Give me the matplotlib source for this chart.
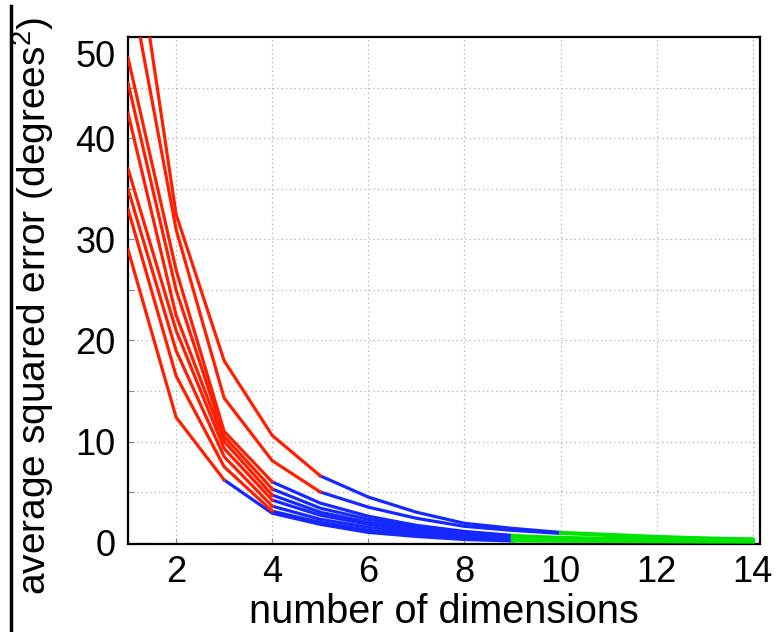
import matplotlib
matplotlib.use("Agg")
import matplotlib.pyplot as plt
import matplotlib.transforms as mtransforms
from matplotlib.lines import Line2D
import numpy as np

# number of dimensions
dims = np.arange(1, 15)

# average squared error per run (degrees^2)
run1 = [64.5, 32.5, 18.0, 10.6, 6.6, 4.5, 3.0, 1.9, 1.4, 1.0, 0.80, 0.60, 0.45, 0.35]
run2 = [56.5, 31.0, 14.3, 8.1, 5.0, 3.5, 2.4, 1.6, 1.2, 0.9, 0.70, 0.50, 0.40, 0.30]
run3 = [48.0, 27.0, 11.0, 6.0, 3.9, 2.6, 1.7, 1.1, 0.70, 0.50, 0.40, 0.30, 0.25, 0.20]
run4 = [45.5, 25.0, 10.5, 5.3, 3.4, 2.3, 1.5, 0.9, 0.60, 0.45, 0.35, 0.28, 0.22, 0.18]
run5 = [42.5, 22.5, 10.0, 4.7, 3.0, 2.0, 1.3, 0.8, 0.50, 0.40, 0.30, 0.24, 0.20, 0.15]
run6 = [37.0, 21.0, 9.3, 4.2, 2.7, 1.8, 1.1, 0.7, 0.45, 0.35, 0.28, 0.22, 0.18, 0.13]
run7 = [35.0, 19.0, 8.5, 3.6, 2.3, 1.5, 0.9, 0.55, 0.35, 0.28, 0.22, 0.18, 0.14, 0.11]
run8 = [33.0, 16.5, 7.5, 3.1, 2.0, 1.2, 0.7, 0.40, 0.25, 0.20, 0.16, 0.13, 0.10, 0.08]
run9 = [29.0, 12.4, 6.2, 2.9, 1.8, 1.0, 0.6, 0.30, 0.15, 0.12, 0.10, 0.08, 0.06, 0.05]
runs = [run1, run2, run3, run4, run5, run6, run7, run8, run9]

# dimension where each run switches red -> blue and blue -> green
red_until = [5, 5, 4, 4, 4, 4, 4, 4, 3]
blue_until = [10, 10, 9, 9, 9, 9, 9, 9, 9]

RED = "#ff1e00"
BLUE = "#1428ff"
GREEN = "#00e400"

plt.rcParams["font.family"] = ["Liberation Sans", "DejaVu Sans"]
plt.rcParams["mathtext.default"] = "regular"

fig = plt.figure(figsize=(7.82, 6.32), dpi=100)
ax = fig.add_axes([0.1637, 0.1392, 0.8082, 0.8023])

for vals, r, b in zip(runs, red_until, blue_until):
    vals = np.array(vals)
    ri = r - 1
    bi = b - 1
    ax.plot(dims[ri:bi + 1], vals[ri:bi + 1], color=BLUE, lw=2.3, zorder=3)
    ax.plot(dims[bi:], vals[bi:], color=GREEN, lw=2.3, zorder=4)
for vals, r in zip(runs, red_until):
    vals = np.array(vals)
    ax.plot(dims[:r], vals[:r], color=RED, lw=2.3, zorder=5)

ax.set_xlim(1, 14.15)
ax.set_ylim(-0.15, 50.05)
ax.set_xticks(np.arange(2, 15, 2))
ax.set_yticks(np.arange(0, 51, 10))
ax.set_yticks(np.arange(5, 50, 10), minor=True)
ax.tick_params(axis="both", which="both", direction="in", labelsize=26,
               length=4, width=0.8, color="#888888")
ax.tick_params(axis="x", pad=8)
ax.tick_params(axis="y", pad=9)
ax.grid(True, which="both", linestyle=(0, (1, 2.5)), color="#b0b0b0", lw=0.9)
ax.grid(False, which="minor", axis="x")
for s in ax.spines.values():
    s.set_linewidth(1.6)
    s.set_color("black")

# top y label sits a little below its tick, as in the original
fig.canvas.draw()
top_lbl = ax.get_yticklabels()[-1]
top_lbl.set_transform(top_lbl.get_transform() +
                      mtransforms.ScaledTranslation(0, -16 / 100, fig.dpi_scale_trans))

ax.set_xlabel("number of dimensions", fontsize=28.5, labelpad=2)
ax.set_ylabel("average squared error (degrees$^2$)", fontsize=28)
ax.yaxis.set_label_coords(-0.114, 0.47)

# thin black rule at the left edge of the figure
fig.add_artist(Line2D([0.014, 0.014], [0.0, 0.99], color="black", lw=2.5,
                      transform=fig.transFigure))

fig.savefig("out.png", dpi=100)
